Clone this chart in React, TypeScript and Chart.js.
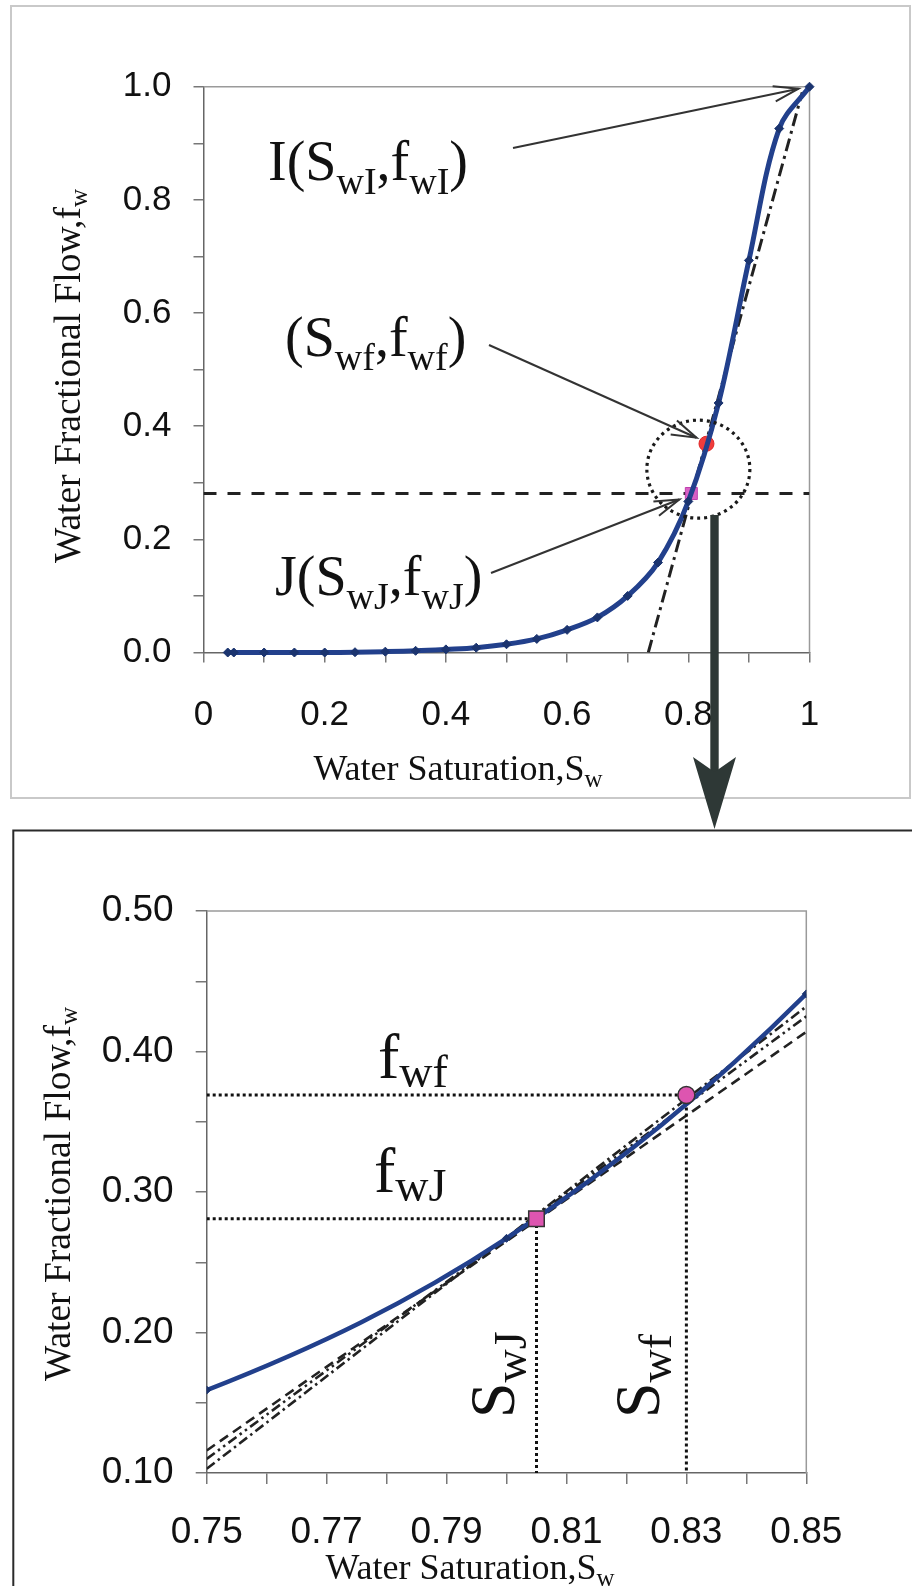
import React, { useEffect, useRef } from "react";
import { Chart, registerables } from "chart.js";

Chart.register(...registerables);

// ---------------- data ----------------
const swValues = [0.04, 0.05, 0.1, 0.15, 0.2, 0.25, 0.3, 0.35, 0.4, 0.45, 0.5, 0.55, 0.6, 0.65, 0.7, 0.75, 0.8, 0.85, 0.9, 0.95, 1.0];
const fwValues = [0, 0, 0, 0, 0, 0.0005, 0.0015, 0.003, 0.0055, 0.0085, 0.0145, 0.024, 0.04, 0.062, 0.1, 0.159, 0.267, 0.441, 0.693, 0.926, 1.0];

const pointI = [1.0, 1.0];
const pointF = [0.83, 0.369];
const pointJ = [0.805, 0.281];

const shockLineSw = [0, 1];
const shockLineFw = [0.281, 0.281];
const topTangentSw = [0.734, 0.988];
const topTangentFw = [0.0, 0.99];

const zoomTangentSw = [0.75, 0.85];
const zoomDashedFw = [0.116, 0.414];
const zoomDashDotDotFw = [0.11, 0.425];
const zoomDashDotFw = [0.103, 0.432];

const circleCenter = [0.8166, 0.324];

const topXTickValues = [0, 0.1, 0.2, 0.3, 0.4, 0.5, 0.6, 0.7, 0.8, 0.9, 1.0];
const topXTickLabels = ["0", "", "0.2", "", "0.4", "", "0.6", "", "0.8", "", "1"];
const topYTickValues = [0, 0.1, 0.2, 0.3, 0.4, 0.5, 0.6, 0.7, 0.8, 0.9, 1.0];
const topYTickLabels = ["0.0", "", "0.2", "", "0.4", "", "0.6", "", "0.8", "", "1.0"];
const bottomXTickValues = [0.75, 0.76, 0.77, 0.78, 0.79, 0.8, 0.81, 0.82, 0.83, 0.84, 0.85];
const bottomXTickLabels = ["0.75", "", "0.77", "", "0.79", "", "0.81", "", "0.83", "", "0.85"];
const bottomYTickValues = [0.1, 0.15, 0.2, 0.25, 0.3, 0.35, 0.4, 0.45, 0.5];
const bottomYTickLabels = ["0.10", "", "0.20", "", "0.30", "", "0.40", "", "0.50"];

// ---------------- styling ----------------
const SANS = "'Liberation Sans', Arial, Helvetica, sans-serif";
const SERIF = "'Liberation Serif', 'Times New Roman', Times, serif";
const BLUE = "#22408c";
const BLUE_DARK = "#1b346f";
const PINK = "#dd55b0";

const toPoints = (xs: number[], ys: number[]) => xs.map((x, i) => ({ x, y: ys[i] }));

type Part = { t: string; sub?: boolean };

function partsWidth(ctx: CanvasRenderingContext2D, parts: Part[], size: number, subSize: number) {
  let w = 0;
  for (const p of parts) {
    ctx.font = `${p.sub ? subSize : size}px ${SERIF}`;
    w += ctx.measureText(p.t).width;
  }
  return w;
}

function drawParts(
  ctx: CanvasRenderingContext2D,
  parts: Part[],
  x: number,
  y: number,
  size: number,
  subSize: number,
  subDy: number,
  rotate = false,
  center = false
) {
  ctx.save();
  ctx.translate(x, y);
  if (rotate) ctx.rotate(-Math.PI / 2);
  ctx.fillStyle = "#111";
  ctx.textBaseline = "alphabetic";
  ctx.textAlign = "left";
  let cx = center ? -partsWidth(ctx, parts, size, subSize) / 2 : 0;
  for (const p of parts) {
    ctx.font = `${p.sub ? subSize : size}px ${SERIF}`;
    ctx.fillText(p.t, cx, p.sub ? subDy : 0);
    cx += ctx.measureText(p.t).width;
  }
  ctx.restore();
}

function drawArrow(ctx: CanvasRenderingContext2D, x0: number, y0: number, x1: number, y1: number) {
  ctx.save();
  ctx.strokeStyle = "#333";
  ctx.lineWidth = 2;
  ctx.setLineDash([]);
  ctx.beginPath();
  ctx.moveTo(x0, y0);
  ctx.lineTo(x1, y1);
  ctx.stroke();
  const ang = Math.atan2(y1 - y0, x1 - x0);
  const L = 26;
  const a = 0.3;
  ctx.beginPath();
  ctx.moveTo(x1 - L * Math.cos(ang - a), y1 - L * Math.sin(ang - a));
  ctx.lineTo(x1, y1);
  ctx.lineTo(x1 - L * Math.cos(ang + a), y1 - L * Math.sin(ang + a));
  ctx.stroke();
  ctx.restore();
}

function drawBoxTopRight(chart: any) {
  const { ctx, chartArea: a } = chart;
  ctx.save();
  ctx.strokeStyle = "#9a9a9a";
  ctx.lineWidth = 1.5;
  ctx.beginPath();
  ctx.moveTo(a.left, a.top);
  ctx.lineTo(a.right, a.top);
  ctx.lineTo(a.right, a.bottom);
  ctx.stroke();
  ctx.restore();
}

function makeAxis(
  min: number,
  max: number,
  values: number[],
  labels: string[],
  size: number,
  padding: number,
  tickLength: number,
  fit: (s: any) => void
) {
  return {
    type: "linear",
    min,
    max,
    afterBuildTicks: (s: any) => {
      s.ticks = values.map((v) => ({ value: v }));
    },
    afterFit: fit,
    ticks: {
      callback: (_v: any, i: number) => labels[i] ?? "",
      font: { family: SANS, size, lineHeight: 1.2 },
      color: "#111",
      padding,
      maxRotation: 0,
      minRotation: 0,
      autoSkip: false,
    },
    grid: { display: true, drawOnChartArea: false, drawTicks: true, tickLength, color: "#777", lineWidth: 1.5 },
    border: { display: true, color: "#666", width: 1.5 },
    title: { display: false },
  };
}

// ---------------- top chart ----------------
const TOP_H = 845;
const topDecor = {
  id: "topDecor",
  beforeDraw(chart: any) {
    const ctx = chart.ctx;
    ctx.save();
    ctx.strokeStyle = "#c9c9c9";
    ctx.lineWidth = 2;
    ctx.strokeRect(11, 6, 899, 792);
    ctx.restore();
  },
  beforeDatasetsDraw(chart: any) {
    drawBoxTopRight(chart);
  },
  afterDatasetsDraw(chart: any) {
    const { ctx, scales } = chart;
    const px = (v: number) => scales.x.getPixelForValue(v);
    const py = (v: number) => scales.y.getPixelForValue(v);

    // dotted circle
    ctx.save();
    ctx.strokeStyle = "#1a1a1a";
    ctx.lineWidth = 3.2;
    ctx.setLineDash([3, 4]);
    ctx.beginPath();
    ctx.ellipse(px(circleCenter[0]), py(circleCenter[1]), 51.5, 49, 0, 0, Math.PI * 2);
    ctx.stroke();
    ctx.restore();

    // annotation arrows
    drawArrow(ctx, 513, 148, px(pointI[0]) - 11, py(pointI[1]) + 2);
    drawArrow(ctx, 489, 345, px(pointF[0]) - 10, py(pointF[1]) - 6);
    drawArrow(ctx, 491, 573, px(pointJ[0]) - 12, py(pointJ[1]) + 6);

    // annotation labels
    drawParts(ctx, [{ t: "I(S" }, { t: "wI", sub: true }, { t: ",f" }, { t: "wI", sub: true }, { t: ")" }], 268, 180, 56, 38, 14);
    drawParts(ctx, [{ t: "(S" }, { t: "wf", sub: true }, { t: ",f" }, { t: "wf", sub: true }, { t: ")" }], 285, 356, 56, 38, 14);
    drawParts(ctx, [{ t: "J(S" }, { t: "wJ", sub: true }, { t: ",f" }, { t: "wJ", sub: true }, { t: ")" }], 275, 595, 56, 38, 14);

    // axis titles
    drawParts(ctx, [{ t: "Water Saturation,S" }, { t: "w", sub: true }], 458, 780, 36, 25, 7, false, true);
    drawParts(ctx, [{ t: "Water Fractional Flow,f" }, { t: "w", sub: true }], 80, 376, 37.5, 25, 7, true, true);
  },
  afterDraw(chart: any) {
    const ctx = chart.ctx;
    ctx.save();
    ctx.fillStyle = "#2e3836";
    ctx.fillRect(710.3, 515, 8.4, 262);
    ctx.beginPath();
    ctx.moveTo(693, 757);
    ctx.lineTo(714.5, 772);
    ctx.lineTo(736, 757);
    ctx.lineTo(714.5, 829);
    ctx.closePath();
    ctx.fill();
    ctx.restore();
  },
};

function topConfig(): any {
  return {
    type: "scatter",
    data: {
      datasets: [
        {
          label: "fw",
          data: toPoints(swValues, fwValues),
          showLine: true,
          borderColor: BLUE,
          borderWidth: 5,
          tension: 0.35,
          pointStyle: "rectRot",
          pointRadius: 4.5,
          pointBackgroundColor: BLUE_DARK,
          pointBorderColor: BLUE_DARK,
          pointBorderWidth: 1,
          clip: 8,
        },
        {
          label: "F",
          data: [{ x: pointF[0], y: pointF[1] }],
          pointStyle: "circle",
          pointRadius: 7.5,
          backgroundColor: "#f03c3c",
          borderColor: "#e02626",
          borderWidth: 1,
        },
        {
          label: "J",
          data: [{ x: pointJ[0], y: pointJ[1] }],
          pointStyle: "rect",
          pointRadius: 8.5,
          backgroundColor: "#d860c4",
          borderColor: "#c040b0",
          borderWidth: 1,
        },
        {
          label: "shock",
          data: toPoints(shockLineSw, shockLineFw),
          showLine: true,
          borderColor: "#222",
          borderWidth: 3,
          borderDash: [13, 11],
          pointRadius: 0,
        },
        {
          label: "tangent",
          data: toPoints(topTangentSw, topTangentFw),
          showLine: true,
          borderColor: "#222",
          borderWidth: 3,
          borderDash: [13, 5, 3, 5],
          pointRadius: 0,
        },
      ],
    },
    options: {
      animation: false,
      responsive: false,
      maintainAspectRatio: false,
      devicePixelRatio: 1,
      events: [],
      layout: { padding: { left: 0, top: 86.7, right: 102.5, bottom: 0 } },
      plugins: { legend: { display: false }, tooltip: { enabled: false }, title: { display: false } },
      scales: {
        x: makeAxis(0, 1, topXTickValues, topXTickLabels, 35, 32, 10, (s: any) => {
          s.height = TOP_H - 652.5;
        }),
        y: makeAxis(0, 1, topYTickValues, topYTickLabels, 35, 22, 10, (s: any) => {
          s.width = 203.5;
        }),
      },
    },
    plugins: [topDecor],
  };
}

// ---------------- bottom chart ----------------
const BOT_TOP = 810;
const BOT_H = 1586 - BOT_TOP;
const bottomDecor = {
  id: "bottomDecor",
  beforeDraw(chart: any) {
    const ctx = chart.ctx;
    ctx.save();
    ctx.strokeStyle = "#2a2a2a";
    ctx.lineWidth = 2;
    ctx.strokeRect(13.3, 830.5 - BOT_TOP, 1000, 1000);
    ctx.restore();
  },
  beforeDatasetsDraw(chart: any) {
    drawBoxTopRight(chart);
  },
  afterDatasetsDraw(chart: any) {
    const ctx = chart.ctx;
    drawParts(ctx, [{ t: "f" }, { t: "wf", sub: true }], 378, 1078 - BOT_TOP, 64, 46, 9);
    drawParts(ctx, [{ t: "f" }, { t: "wJ", sub: true }], 374, 1192 - BOT_TOP, 64, 46, 9);
    drawParts(ctx, [{ t: "S" }, { t: "wJ", sub: true }], 514, 1418 - BOT_TOP, 64, 46, 12, true);
    drawParts(ctx, [{ t: "S" }, { t: "wf", sub: true }], 659, 1418 - BOT_TOP, 64, 46, 12, true);

    drawParts(ctx, [{ t: "Water Saturation,S" }, { t: "w", sub: true }], 470, 1579 - BOT_TOP, 36, 25, 7, false, true);
    drawParts(ctx, [{ t: "Water Fractional Flow,f" }, { t: "w", sub: true }], 70, 1194 - BOT_TOP, 37.5, 25, 7, true, true);
  },
};

function bottomConfig(): any {
  const guide = (sw: number, fw: number) => [
    { x: bottomXTickValues[0], y: fw },
    { x: sw, y: fw },
    { x: sw, y: bottomYTickValues[0] },
  ];
  return {
    type: "scatter",
    data: {
      datasets: [
        {
          label: "F",
          data: [{ x: pointF[0], y: pointF[1] }],
          pointStyle: "circle",
          pointRadius: 8.5,
          backgroundColor: PINK,
          borderColor: "#333",
          borderWidth: 1.5,
        },
        {
          label: "J",
          data: [{ x: pointJ[0], y: pointJ[1] }],
          pointStyle: "rect",
          pointRadius: 11,
          backgroundColor: PINK,
          borderColor: "#333",
          borderWidth: 1.5,
        },
        {
          label: "fw",
          data: toPoints(swValues, fwValues),
          showLine: true,
          borderColor: BLUE,
          borderWidth: 4.5,
          tension: 0.35,
          pointStyle: "rectRot",
          pointRadius: 4,
          pointBackgroundColor: BLUE_DARK,
          pointBorderColor: BLUE_DARK,
          pointBorderWidth: 1,
        },
        {
          label: "fwf guide",
          data: guide(pointF[0], pointF[1]),
          showLine: true,
          borderColor: "#111",
          borderWidth: 3,
          borderDash: [3, 3],
          pointRadius: 0,
          tension: 0,
        },
        {
          label: "fwJ guide",
          data: guide(pointJ[0], pointJ[1]),
          showLine: true,
          borderColor: "#111",
          borderWidth: 3,
          borderDash: [3, 3],
          pointRadius: 0,
          tension: 0,
        },
        {
          label: "dashed",
          data: toPoints(zoomTangentSw, zoomDashedFw),
          showLine: true,
          borderColor: "#222",
          borderWidth: 2.6,
          borderDash: [10, 6],
          pointRadius: 0,
        },
        {
          label: "dash-dot-dot",
          data: toPoints(zoomTangentSw, zoomDashDotDotFw),
          showLine: true,
          borderColor: "#222",
          borderWidth: 2.6,
          borderDash: [10, 4, 2.5, 4, 2.5, 4],
          pointRadius: 0,
        },
        {
          label: "dash-dot",
          data: toPoints(zoomTangentSw, zoomDashDotFw),
          showLine: true,
          borderColor: "#222",
          borderWidth: 2.6,
          borderDash: [10, 4, 2.5, 4],
          pointRadius: 0,
        },
      ],
    },
    options: {
      animation: false,
      responsive: false,
      maintainAspectRatio: false,
      devicePixelRatio: 1,
      events: [],
      layout: { padding: { left: 0, top: 911 - BOT_TOP, right: 912 - 806.3, bottom: 0 } },
      plugins: { legend: { display: false }, tooltip: { enabled: false }, title: { display: false } },
      scales: {
        x: makeAxis(0.75, 0.85, bottomXTickValues, bottomXTickLabels, 37, 27, 11, (s: any) => {
          s.height = BOT_H - (1473 - BOT_TOP);
        }),
        y: makeAxis(0.1, 0.5, bottomYTickValues, bottomYTickLabels, 37, 22, 11, (s: any) => {
          s.width = 206.7;
        }),
      },
    },
    plugins: [bottomDecor],
  };
}

export default function App() {
  const topRef = useRef<HTMLCanvasElement>(null);
  const botRef = useRef<HTMLCanvasElement>(null);

  useEffect(() => {
    const top = new Chart(topRef.current as HTMLCanvasElement, topConfig());
    const bot = new Chart(botRef.current as HTMLCanvasElement, bottomConfig());
    return () => {
      top.destroy();
      bot.destroy();
    };
  }, []);

  return (
    <div style={{ position: "absolute", left: 0, top: 0, width: 912, height: 1586, overflow: "hidden", background: "#fff" }}>
      <canvas
        ref={botRef}
        width={912}
        height={BOT_H}
        style={{ position: "absolute", left: 0, top: BOT_TOP, width: 912, height: BOT_H, zIndex: 1 }}
      />
      <canvas
        ref={topRef}
        width={912}
        height={TOP_H}
        style={{ position: "absolute", left: 0, top: 0, width: 912, height: TOP_H, zIndex: 2 }}
      />
    </div>
  );
}
